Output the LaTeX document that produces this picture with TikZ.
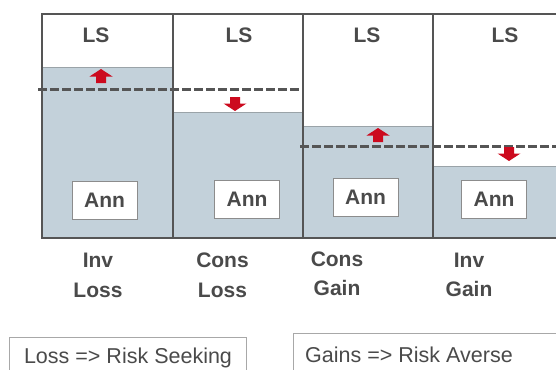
\documentclass[tikz,border=0pt]{standalone}
\usepackage{fontspec}
\setmainfont{Liberation Sans}
\definecolor{framegray}{HTML}{555555}
\definecolor{textgray}{HTML}{4A4A4A}
\definecolor{levelblue}{HTML}{C3D1DA}
\definecolor{edgegray}{HTML}{9AA3A8}
\definecolor{boxgray}{HTML}{8C8C8C}
\definecolor{legendgray}{HTML}{A8A8A8}
\definecolor{arrowred}{HTML}{CC0A1E}
\tikzset{
  frameline/.style={draw=framegray, line width=2.5pt},
  level/.style={fill=levelblue, draw=edgegray, line width=0.8pt},
  refline/.style={draw=framegray, line width=3pt, dash pattern=on 8.5pt off 3.5pt},
  lstext/.style={font=\bfseries\fontsize{21}{25}\selectfont, text=textgray, inner sep=0pt, anchor=base},
  annbox/.style={draw=boxgray, fill=white, line width=0.9pt, minimum width=65pt, minimum height=38pt, inner sep=0pt,
                 font=\bfseries\fontsize{21}{25}\selectfont, text=textgray},
  coltext/.style={font=\bfseries\fontsize{21}{25}\selectfont, text=textgray, inner sep=0pt, anchor=base},
  legendbox/.style={draw=legendgray, line width=1pt},
  legendtext/.style={font=\fontsize{21.5}{26}\selectfont, text=textgray, inner sep=0pt, anchor=base},
  uparrow/.pic={\fill[arrowred] (0,0) -- (11.5,7.5) -- (5,7.5) -- (5,14) -- (-5,14) -- (-5,7.5) -- (-11.5,7.5) -- cycle;},
  downarrow/.pic={\fill[arrowred] (0,0) -- (11.5,-7.5) -- (5,-7.5) -- (5,-14) -- (-5,-14) -- (-5,-7.5) -- (-11.5,-7.5) -- cycle;}
}
\begin{document}
\begin{tikzpicture}[x=1pt, y=-1pt]
\useasboundingbox (0,0) rectangle (556,369);
\clip (0,0) rectangle (556,369);

% filled levels of the four columns
\path[level] (42,67) rectangle (173,238);
\path[level] (173,112) rectangle (303,238);
\path[level] (303,126) rectangle (433,238);
\path[level] (433,166) rectangle (570,238);

% reference levels
\coordinate (r1a) at (38,89);
\coordinate (r1b) at (303,89);
\coordinate (r2a) at (300,146);
\coordinate (r2b) at (570,146);
\draw[refline] (r1a) -- (r1b);
\draw[refline] (r2a) -- (r2b);

% movement arrows
\pic at (101,69) {uparrow};
\pic at (235,111) {downarrow};
\pic at (378,128) {uparrow};
\pic at (509,161) {downarrow};

% outer frame and column dividers
\draw[frameline] (570,14) -- (42,14) -- (42,238) -- (570,238);
\draw[frameline] (173,14) -- (173,238);
\draw[frameline] (303,14) -- (303,238);
\draw[frameline] (433,14) -- (433,238);

% column headers
\node[lstext] (ls1) at (96,43) {LS};
\node[lstext] (ls2) at (239,43) {LS};
\node[lstext] (ls3) at (367,42) {LS};
\node[lstext] (ls4) at (505,43) {LS};

% boxes at the bottom of each column
\node[annbox] (ann1) at (104.5,200) {Ann};
\node[annbox] (ann2) at (247,199) {Ann};
\node[annbox] (ann3) at (365.5,197) {Ann};
\node[annbox] (ann4) at (494,199.5) {Ann};

% column captions
\node[coltext] (c1a) at (98,267) {Inv};
\node[coltext] (c1b) at (98,297) {Loss};
\node[coltext] (c2a) at (222.5,267) {Cons};
\node[coltext] (c2b) at (222.5,297) {Loss};
\node[coltext] (c3a) at (337,266) {Cons};
\node[coltext] (c3b) at (337,295.5) {Gain};
\node[coltext] (c4a) at (469,267) {Inv};
\node[coltext] (c4b) at (469,296) {Gain};

% legend
\draw[legendbox] (9.5,337) rectangle (246,380);
\draw[legendbox] (293,333) rectangle (575,380);
\node[legendtext] (leg1) at (128,363) {Loss => Risk Seeking};
\node[legendtext] (leg2) at (409,362) {Gains => Risk Averse};
\end{tikzpicture}
\end{document}
